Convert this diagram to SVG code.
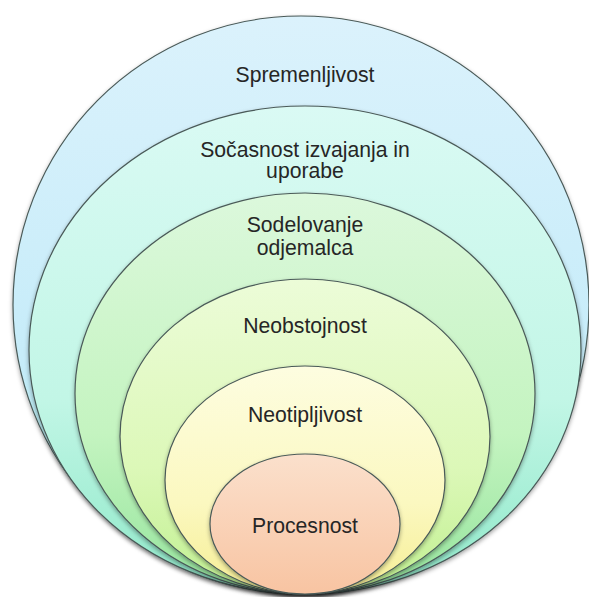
<svg xmlns="http://www.w3.org/2000/svg" width="589" height="597" viewBox="0 0 589 597">
<defs>
<style>
.ring{stroke:#4a5a58;stroke-width:1.2;filter:url(#sh)}
.t{font-family:"Liberation Sans",Arial,sans-serif;font-size:21.2px;fill:#262626;text-anchor:middle}
</style>
<filter id="sh" x="-10%" y="-10%" width="120%" height="125%">
<feDropShadow dx="0" dy="2" stdDeviation="2" flood-color="#000" flood-opacity="0.35"/>
</filter>
<linearGradient id="g1" x1="0" y1="0" x2="0" y2="1"><stop offset="0" stop-color="#dbf2fc"/><stop offset="0.6" stop-color="#c6ecf9"/><stop offset="1" stop-color="#98e8e0"/></linearGradient>
<linearGradient id="g2" x1="0" y1="0" x2="0" y2="1"><stop offset="0" stop-color="#dafaf4"/><stop offset="0.6" stop-color="#c2f6e6"/><stop offset="1" stop-color="#8ee8c8"/></linearGradient>
<linearGradient id="g3" x1="0" y1="0" x2="0" y2="1"><stop offset="0" stop-color="#dcf8dc"/><stop offset="0.6" stop-color="#c4f4c0"/><stop offset="1" stop-color="#94e49c"/></linearGradient>
<linearGradient id="g4" x1="0" y1="0" x2="0" y2="1"><stop offset="0" stop-color="#ecfcd8"/><stop offset="0.6" stop-color="#dcf8b8"/><stop offset="1" stop-color="#c0f090"/></linearGradient>
<linearGradient id="g5" x1="0" y1="0" x2="0" y2="1"><stop offset="0" stop-color="#fdfde0"/><stop offset="0.6" stop-color="#fbf8c0"/><stop offset="1" stop-color="#f6ee94"/></linearGradient>
<linearGradient id="g6" x1="0" y1="0" x2="0" y2="1"><stop offset="0" stop-color="#fbe0cc"/><stop offset="1" stop-color="#f8c4a2"/></linearGradient>
</defs>
<rect width="589" height="597" fill="#ffffff"/>
<g id="spremenljivost">
<ellipse class="ring" cx="301" cy="305" rx="288" ry="289" fill="url(#g1)"/>
<text class="t" x="305" y="82">Spremenljivost</text>
</g>
<g id="socasnost">
<ellipse class="ring" cx="305" cy="350" rx="276" ry="244" fill="url(#g2)"/>
<text class="t" x="305" y="157">Sočasnost izvajanja in</text>
<text class="t" x="305" y="178">uporabe</text>
</g>
<g id="sodelovanje">
<ellipse class="ring" cx="305" cy="393.5" rx="230" ry="200.5" fill="url(#g3)"/>
<text class="t" x="305" y="232">Sodelovanje</text>
<text class="t" x="305" y="255">odjemalca</text>
</g>
<g id="neobstojnost">
<ellipse class="ring" cx="305" cy="436.5" rx="185" ry="157.5" fill="url(#g4)"/>
<text class="t" x="305" y="333">Neobstojnost</text>
</g>
<g id="neotipljivost">
<ellipse class="ring" cx="305" cy="480" rx="140" ry="114" fill="url(#g5)"/>
<text class="t" x="305" y="422">Neotipljivost</text>
</g>
<g id="procesnost">
<ellipse class="ring" cx="305" cy="524" rx="95" ry="70" fill="url(#g6)"/>
<text class="t" x="305" y="533">Procesnost</text>
</g>
<g id="connectors"/>
</svg>
